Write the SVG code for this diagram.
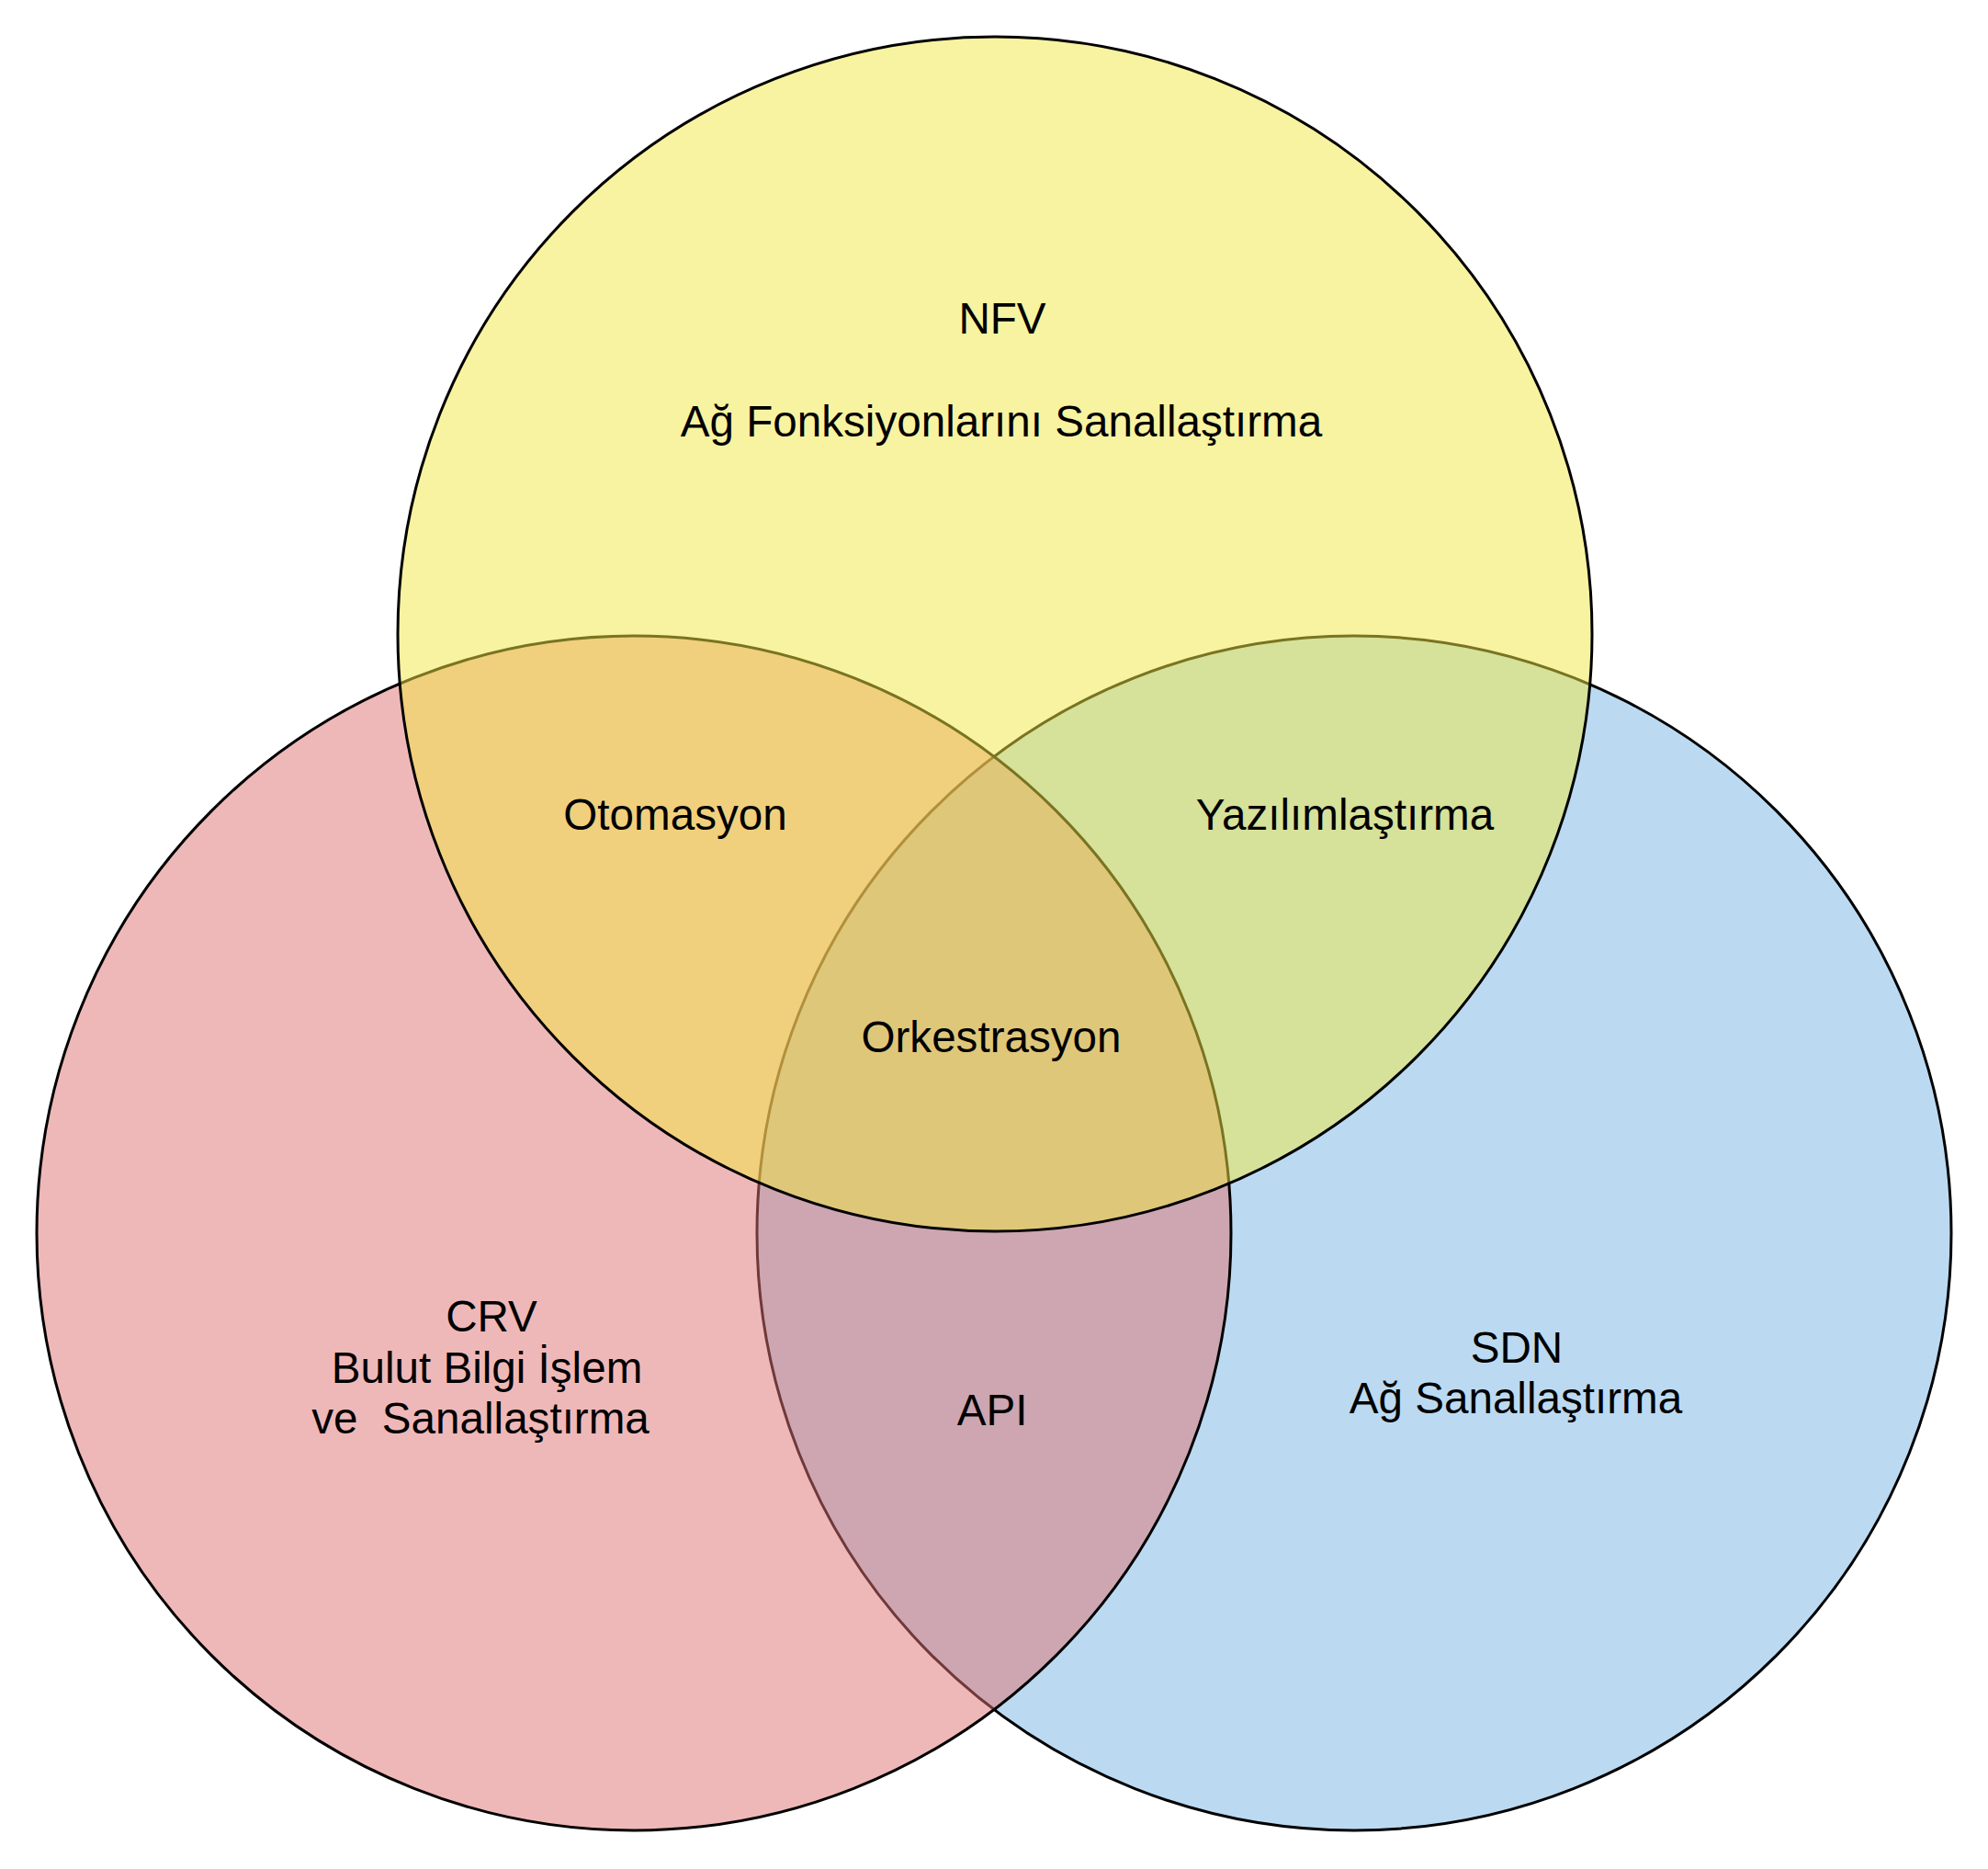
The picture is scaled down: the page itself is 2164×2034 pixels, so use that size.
<svg xmlns="http://www.w3.org/2000/svg" width="2164" height="2034" viewBox="0 0 2164 2034">
<style>
.c{stroke:#000;stroke-width:3;fill-opacity:0.5}
.t{font-family:"Liberation Sans",Arial,sans-serif;font-size:47.6px;fill:#000;text-anchor:middle;white-space:pre}
</style>
<rect width="2164" height="2034" fill="#fff"/>
<g id="sdn">
<circle class="c" cx="1474" cy="1342" r="650" fill="#77B5E5"/>
</g>
<g id="crv">
<circle class="c" cx="690" cy="1342" r="650" fill="#DF7171"/>
</g>
<g id="nfv">
<circle class="c" cx="1083" cy="690" r="650" fill="#F1E741"/>
</g>
<g id="labels">
<g id="nfv-label">
<text class="t" x="1091" y="363">NFV</text>
<text class="t" x="1090" y="475">Ağ Fonksiyonlarını Sanallaştırma</text>
</g>
<g id="otomasyon"><text class="t" x="735" y="903">Otomasyon</text></g>
<g id="yazilimlastirma"><text class="t" x="1464" y="903">Yazılımlaştırma</text></g>
<g id="orkestrasyon"><text class="t" x="1079" y="1145">Orkestrasyon</text></g>
<g id="crv-label">
<text class="t" x="535" y="1449">CRV</text>
<text class="t" x="530" y="1505">Bulut Bilgi İşlem</text>
<text class="t" x="523" y="1560" xml:space="preserve">ve  Sanallaştırma</text>
</g>
<g id="api"><text class="t" x="1080" y="1551">API</text></g>
<g id="sdn-label">
<text class="t" x="1651" y="1483">SDN</text>
<text class="t" x="1650" y="1538">Ağ Sanallaştırma</text>
</g>
</g>
<g id="connectors"/>
</svg>
